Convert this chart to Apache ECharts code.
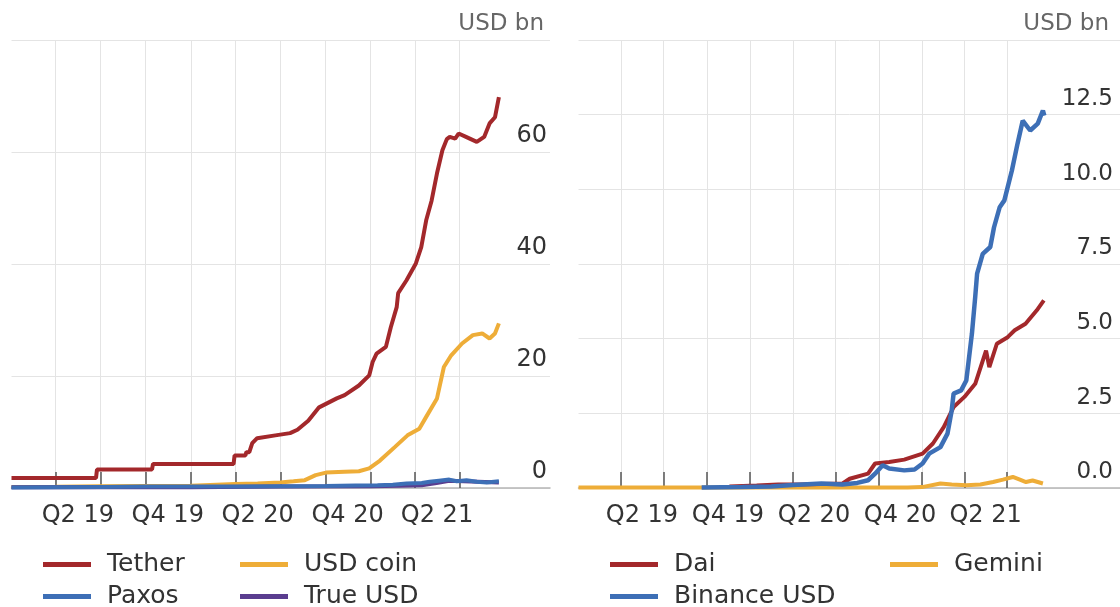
<!DOCTYPE html>
<html>
<head>
<meta charset="utf-8">
<script src="https://cdn.jsdelivr.net/npm/echarts@6/dist/echarts.min.js"></script>
<style>
html,body{margin:0;padding:0;background:#fff;}
#chart{width:1120px;height:607px;}
</style>
</head>
<body>
<div id="chart"></div>
<script>
// ---------- DATA (USD bn) ----------
const tickDates = ['2019-04-01','2019-07-01','2019-10-01','2020-01-01','2020-04-01','2020-07-01','2020-10-01','2021-01-01','2021-04-01','2021-07-01'];
const labelDates = ['2019-05-16','2019-11-15','2020-05-16','2020-11-15','2021-05-16'];
const tickLabels = ['Q2 19','Q4 19','Q2 20','Q4 20','Q2 21'];

const tether = [
  ['2019-01-01',1.8],['2019-06-22',1.8],['2019-06-24',3.3],['2019-10-14',3.3],['2019-10-16',4.3],
  ['2020-03-28',4.3],['2020-03-30',5.8],['2020-04-21',5.8],['2020-04-23',6.4],['2020-04-29',6.4],
  ['2020-05-05',8.0],['2020-05-15',8.9],['2020-06-21',9.4],['2020-07-21',9.8],['2020-08-05',10.4],
  ['2020-08-27',12.0],['2020-09-18',14.4],['2020-10-24',16.0],['2020-11-09',16.6],['2020-12-08',18.3],
  ['2020-12-29',20.1],['2021-01-05',22.5],['2021-01-13',24.0],['2021-02-01',25.2],['2021-02-11',28.7],
  ['2021-02-23',32.3],['2021-02-26',34.8],['2021-03-15',37.1],['2021-04-03',40.1],['2021-04-14',43.0],
  ['2021-04-24',47.8],['2021-05-05',51.3],['2021-05-16',56.2],['2021-05-27',60.3],['2021-06-05',62.3],
  ['2021-06-11',62.7],['2021-06-22',62.4],['2021-06-29',63.3],['2021-07-14',62.7],['2021-08-05',61.8],
  ['2021-08-20',62.7],['2021-08-31',65.1],['2021-09-11',66.2],['2021-09-19',69.8]
];
const usdCoin = [
  ['2019-01-01',0.2],['2019-04-01',0.22],['2019-07-01',0.3],['2019-10-01',0.35],['2020-01-01',0.4],
  ['2020-04-01',0.7],['2020-05-16',0.8],['2020-07-01',1.0],['2020-07-28',1.2],['2020-08-20',1.4],
  ['2020-09-11',2.3],['2020-10-02',2.75],['2020-11-09',2.9],['2020-12-08',3.0],['2020-12-29',3.5],
  ['2021-01-20',4.9],['2021-02-19',7.3],['2021-03-17',9.4],['2021-04-10',10.6],['2021-04-24',12.7],
  ['2021-05-16',16.0],['2021-05-30',21.6],['2021-06-14',23.7],['2021-07-06',25.8],['2021-07-28',27.3],
  ['2021-08-16',27.6],['2021-08-31',26.7],['2021-09-11',27.6],['2021-09-19',29.4]
];
const paxos = [
  ['2019-01-01',0.1],['2019-04-01',0.15],['2019-07-01',0.2],['2019-10-01',0.25],['2020-01-01',0.25],
  ['2020-04-01',0.25],['2020-07-01',0.3],['2020-10-01',0.35],['2020-12-01',0.45],['2021-01-15',0.5],
  ['2021-02-15',0.6],['2021-03-15',0.8],['2021-04-15',0.9],['2021-05-01',1.1],['2021-05-20',1.3],
  ['2021-06-10',1.5],['2021-06-25',1.2],['2021-07-15',1.4],['2021-08-05',1.1],['2021-08-25',1.0],
  ['2021-09-19',1.2]
];
const trueUsd = [
  ['2019-01-01',0.15],['2019-07-01',0.2],['2020-01-01',0.15],['2020-07-01',0.25],['2021-01-01',0.3],
  ['2021-03-01',0.4],['2021-04-15',0.5],['2021-05-15',0.9],['2021-06-10',1.3],['2021-07-10',1.2],
  ['2021-09-19',1.0]
];
const dai = [
  ['2019-11-18',0.05],['2020-01-15',0.08],['2020-03-01',0.12],['2020-04-15',0.12],['2020-06-01',0.13],
  ['2020-07-16',0.15],['2020-07-31',0.31],['2020-09-08',0.48],['2020-09-23',0.82],['2020-10-23',0.87],
  ['2020-11-24',0.95],['2021-01-02',1.15],['2021-01-24',1.49],['2021-02-16',2.04],['2021-03-09',2.71],
  ['2021-04-01',3.05],['2021-04-24',3.49],['2021-05-17',4.6],['2021-05-24',4.05],['2021-06-09',4.83],
  ['2021-07-02',5.05],['2021-07-17',5.28],['2021-08-09',5.5],['2021-09-02',5.95],['2021-09-17',6.28]
];
const binanceUsd = [
  ['2019-09-20',0.02],['2019-12-15',0.03],['2020-02-15',0.05],['2020-04-01',0.1],['2020-06-01',0.15],
  ['2020-07-15',0.12],['2020-08-16',0.17],['2020-09-08',0.26],['2020-09-23',0.48],['2020-10-09',0.76],
  ['2020-10-23',0.65],['2020-11-24',0.59],['2020-12-16',0.62],['2021-01-02',0.82],['2021-01-16',1.15],
  ['2021-02-09',1.37],['2021-02-24',1.82],['2021-03-05',2.6],['2021-03-09',3.16],['2021-03-25',3.27],
  ['2021-04-05',3.6],['2021-04-17',5.17],['2021-04-24',6.4],['2021-04-28',7.18],['2021-05-10',7.84],
  ['2021-05-26',8.07],['2021-06-03',8.73],['2021-06-15',9.4],['2021-06-25',9.63],['2021-07-11',10.63],
  ['2021-07-23',11.53],['2021-08-03',12.3],['2021-08-19',11.97],['2021-09-04',12.2],['2021-09-15',12.64],
  ['2021-09-18',12.47]
];
const gemini = [
  ['2019-01-01',0.02],['2019-07-01',0.02],['2020-01-01',0.02],['2020-07-01',0.02],['2020-12-01',0.02],
  ['2021-01-01',0.03],['2021-02-09',0.15],['2021-03-05',0.12],['2021-04-05',0.09],['2021-05-05',0.12],
  ['2021-06-01',0.2],['2021-06-22',0.28],['2021-07-13',0.37],['2021-07-28',0.28],['2021-08-10',0.2],
  ['2021-08-24',0.25],['2021-09-15',0.15]
];

// ---------- STYLE ----------
const FONT = 'DejaVu Sans';
const RED = '#A3282B', GOLD = '#EEAD38', BLUE = '#3D6FB6', PURPLE = '#5A3D8F';
const ts = d => Date.UTC(+d.slice(0,4), +d.slice(5,7) - 1, +d.slice(8,10));
const toXY = arr => arr.map(p => [ts(p[0]), p[1]]);
const tickVals = tickDates.map(ts);
const labelVals = labelDates.map(ts);

function xAxisFor(gridIndex, maxDate) {
  return {
    type: 'value', gridIndex: gridIndex,
    min: ts('2019-01-01'), max: ts(maxDate),
    axisLine: {show: true, onZero: false, lineStyle: {color: '#b5b5b5', width: 1.5}},
    axisTick: {show: true, inside: true, length: 16, customValues: tickVals, lineStyle: {color: '#555', width: 1.5}},
    splitLine: {show: true, lineStyle: {color: '#e4e4e4', width: 1}},
    axisLabel: {
      customValues: labelVals, margin: 16, fontSize: 24, color: '#333', fontFamily: FONT,
      formatter: function (v) {
        let best = 0, bd = Infinity;
        labelVals.forEach((lv, i) => { const d = Math.abs(lv - v); if (d < bd) { bd = d; best = i; } });
        return tickLabels[best];
      }
    }
  };
}
function yAxisFor(gridIndex, max, interval, margin, digits, fs) {
  return {
    type: 'value', gridIndex: gridIndex, position: 'right',
    min: 0, max: max, interval: interval,
    axisLine: {show: false}, axisTick: {show: false},
    splitLine: {show: true, lineStyle: {color: '#e4e4e4', width: 1}},
    axisLabel: {
      inside: true, margin: margin, fontSize: fs, color: '#333', fontFamily: FONT,
      verticalAlign: 'bottom', padding: [0, 0, 4, 0],
      formatter: v => (v >= max ? '' : v.toFixed(digits))
    }
  };
}
function line(name, data, color, xi, width, z) {
  return {
    name: name, type: 'line', xAxisIndex: xi, yAxisIndex: xi, data: toXY(data),
    showSymbol: false, symbol: 'none', z: z,
    lineStyle: {color: color, width: width}, itemStyle: {color: color},
    animation: false
  };
}
function legendItem(name, left, top) {
  return {
    data: [name], left: left, top: top, icon: 'rect', itemWidth: 48, itemHeight: 5,
    selectedMode: false, padding: 0,
    textStyle: {fontSize: 25, color: '#333', fontFamily: FONT, padding: [0, 0, 0, 11]}
  };
}

const chart = echarts.init(document.getElementById('chart'), null, {renderer: 'canvas'});
chart.setOption({
  backgroundColor: '#fff',
  animation: false,
  textStyle: {fontFamily: FONT},
  title: [
    {text: 'USD bn', right: 571, top: 8, textStyle: {fontSize: 23, color: '#666', fontWeight: 'normal', fontFamily: FONT}},
    {text: 'USD bn', right: 6, top: 8, textStyle: {fontSize: 23, color: '#666', fontWeight: 'normal', fontFamily: FONT}}
  ],
  grid: [
    {left: 11.5, right: 570, top: 40, bottom: 119},
    {left: 578.5, right: 0, top: 40, bottom: 119}
  ],
  xAxis: [xAxisFor(0, '2022-01-01'), xAxisFor(1, '2022-02-26')],
  yAxis: [yAxisFor(0, 80, 20, 3, 0, 24), yAxisFor(1, 15, 2.5, 7, 1, 23)],
  legend: [
    legendItem('Tether', 43, 552), legendItem('USD coin', 240, 552),
    legendItem('Paxos', 43, 584), legendItem('True USD', 240, 584),
    legendItem('Dai', 610, 552), legendItem('Gemini', 890, 552),
    legendItem('Binance USD', 610, 584)
  ],
  series: [
    line('Tether', tether, RED, 0, 4, 6),
    line('USD coin', usdCoin, GOLD, 0, 4, 3),
    line('Paxos', paxos, BLUE, 0, 4, 5),
    line('True USD', trueUsd, PURPLE, 0, 4, 4),
    line('Dai', dai, RED, 1, 4, 4),
    line('Gemini', gemini, GOLD, 1, 4, 3),
    line('Binance USD', binanceUsd, BLUE, 1, 4.5, 5)
  ]
});
</script>
</body>
</html>
